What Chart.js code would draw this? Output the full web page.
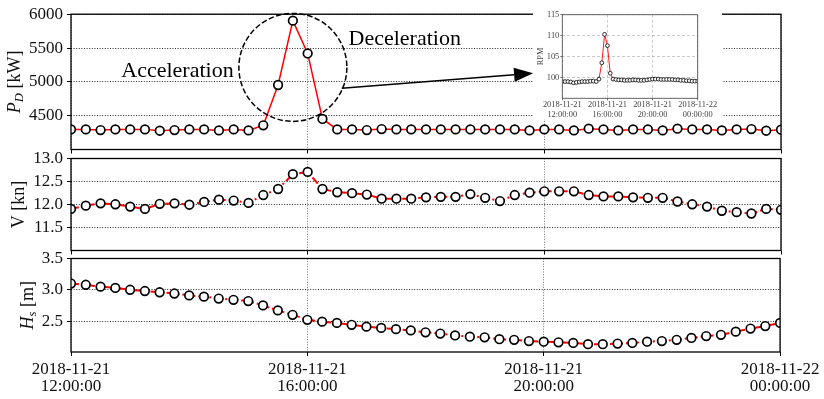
<!DOCTYPE html>
<html>
<head>
<meta charset="utf-8">
<script src="https://cdn.jsdelivr.net/npm/chart.js@4.4.0/dist/chart.umd.min.js"></script>
<style>
  html, body { margin: 0; padding: 0; background: #fff; }
  #wrap { position: relative; width: 824px; height: 399px; overflow: hidden; }
  #wrap canvas { position: absolute; }
  #rpmChart { background: #fff; }
</style>
</head>
<body>
<div id="wrap">
  <canvas id="powerChart" width="824" height="399" style="left:0;top:0"></canvas>
  <canvas id="speedChart" width="824" height="399" style="left:0;top:0"></canvas>
  <canvas id="waveChart" width="824" height="399" style="left:0;top:0"></canvas>
  <canvas id="rpmChart" width="189" height="112" style="left:533px;top:7px"></canvas>
</div>
<script>
// time axis: one sample every 15 minutes from 12:00 to 00:00 (hours)
const START_HOUR = 12;
const STEP_HOURS = 0.25;
const X_TICKS = [12, 16, 20, 24];
const X_TICK_LABELS = [
    ['2018-11-21', '12:00:00'],
    ['2018-11-21', '16:00:00'],
    ['2018-11-21', '20:00:00'],
    ['2018-11-22', '00:00:00']
];

// delivered power P_D [kW]
const POWER_KW = [
    4300, 4300, 4290, 4300, 4300, 4300, 4280, 4290, 4300, 4300, 4285, 4300, 4285,
    4360, 4955, 5905, 5421, 4454,
    4300, 4300, 4290, 4305, 4300, 4300, 4300, 4300, 4300, 4300, 4300, 4300, 4300,
    4285, 4300, 4300, 4285, 4310, 4300, 4285, 4300, 4300, 4285, 4310, 4300, 4300,
    4285, 4300, 4305, 4280, 4295
];
// ship speed V [kn]
const SPEED_KN = [
    11.91, 11.98, 12.03, 12.01, 11.96, 11.91, 12.02, 12.03, 12.00, 12.06, 12.11, 12.09,
    12.04, 12.21, 12.34, 12.66, 12.71, 12.34, 12.27, 12.25, 12.22, 12.13, 12.13, 12.13,
    12.16, 12.17, 12.17, 12.23, 12.15, 12.08, 12.21, 12.26, 12.29, 12.29, 12.29, 12.21,
    12.18, 12.18, 12.16, 12.15, 12.15, 12.07, 12.01, 11.96, 11.87, 11.84, 11.81, 11.91,
    11.89
];
// significant wave height H_s [m]
const WAVE_HS_M = [
    3.10, 3.08, 3.05, 3.03, 3.00, 2.98, 2.96, 2.94, 2.91, 2.89, 2.86, 2.84,
    2.82, 2.75, 2.67, 2.60, 2.52, 2.49, 2.47, 2.44, 2.41, 2.39, 2.37, 2.35,
    2.32, 2.30, 2.27, 2.25, 2.24, 2.21, 2.20, 2.18, 2.17, 2.16, 2.15, 2.13,
    2.13, 2.14, 2.15, 2.17, 2.18, 2.20, 2.23, 2.26, 2.28, 2.33, 2.38, 2.42,
    2.47
];
// shaft speed (inset)
const RPM = [
    99.0, 99.0, 99.0, 98.9, 98.7, 98.8, 98.9, 99.0, 99.0, 99.0, 99.1, 99.1, 99.0,
    99.6, 103.5, 110.3, 107.6, 101.0, 99.6,
    99.5, 99.4, 99.4, 99.3, 99.3, 99.3, 99.4, 99.4, 99.3, 99.3, 99.3, 99.4, 99.5,
    99.6, 99.6, 99.6, 99.5, 99.5, 99.5, 99.5, 99.5, 99.4, 99.4, 99.3, 99.3, 99.2,
    99.2, 99.1, 99.1, 99.1
];

const POWER_TICKS = [4500, 5000, 5500, 6000];
const SPEED_TICKS = [11.5, 12.0, 12.5, 13.0];
const WAVE_TICKS = [2.5, 3.0, 3.5];
const RPM_TICKS = [100, 105, 110, 115];

const SERIF = "'Liberation Serif', 'DejaVu Serif', serif";
const RED = '#ff0000';

const toPoints = arr => arr.map((v, i) => ({ x: START_HOUR + i * STEP_HOURS, y: v }));

// black box round the plot area, drawn over the markers like matplotlib spines
const framePlugin = {
    id: 'frame',
    afterDatasetsDraw(chart, args, opts) {
        const { ctx, chartArea: a } = chart;
        ctx.save();
        ctx.strokeStyle = opts.color;
        ctx.lineWidth = opts.width;
        ctx.strokeRect(a.left, a.top, a.right - a.left, a.bottom - a.top);
        ctx.restore();
    }
};

// rotated y label with italic / subscript parts (P_D, H_s)
const yTitlePlugin = {
    id: 'yTitle',
    afterDraw(chart, args, opts) {
        if (!opts.parts) return;
        const { ctx, chartArea: a } = chart;
        const size = opts.size;
        const fontFor = p => (p.italic ? 'italic ' : '') + (p.sub ? size * 0.7 : size) + 'px ' + SERIF;
        ctx.save();
        ctx.translate(opts.x, (a.top + a.bottom) / 2);
        ctx.rotate(-Math.PI / 2);
        ctx.fillStyle = opts.color;
        ctx.textBaseline = 'alphabetic';
        let total = 0;
        for (const p of opts.parts) {
            ctx.font = fontFor(p);
            total += ctx.measureText(p.text).width;
        }
        let x = -total / 2;
        for (const p of opts.parts) {
            ctx.font = fontFor(p);
            ctx.fillText(p.text, x, p.sub ? size * 0.22 : 0);
            x += ctx.measureText(p.text).width;
        }
        ctx.restore();
    }
};

// dashed circle, the two labels and the arrow pointing at the RPM inset
const zoomNotePlugin = {
    id: 'zoomNote',
    afterDatasetsDraw(chart) {
        const { ctx, scales: { x, y } } = chart;
        const px = (h, v) => [x.getPixelForValue(h), y.getPixelForValue(v)];
        ctx.save();

        const [cx, cy] = px(15.75, 5215);
        ctx.strokeStyle = '#000';
        ctx.lineWidth = 1.5;
        ctx.setLineDash([5.5, 2.4]);
        ctx.beginPath();
        ctx.arc(cx, cy, 54, 0, Math.PI * 2);
        ctx.stroke();
        ctx.setLineDash([]);

        ctx.fillStyle = '#000';
        ctx.font = '22px ' + SERIF;
        ctx.textAlign = 'center';
        ctx.textBaseline = 'middle';
        ctx.fillText('Acceleration', ...px(13.8, 5160));
        ctx.fillText('Deceleration', ...px(17.64, 5636));

        const [x0, y0] = px(16.575, 4906);
        const [x1, y1] = px(19.81, 5128);
        const ang = Math.atan2(y1 - y0, x1 - x0);
        const headLen = 19, headHalf = 7;
        const bx = x1 - headLen * Math.cos(ang), by = y1 - headLen * Math.sin(ang);
        ctx.lineWidth = 1.5;
        ctx.beginPath();
        ctx.moveTo(x0, y0);
        ctx.lineTo(bx, by);
        ctx.stroke();
        ctx.beginPath();
        ctx.moveTo(x1, y1);
        ctx.lineTo(bx - headHalf * Math.sin(ang), by + headHalf * Math.cos(ang));
        ctx.lineTo(bx + headHalf * Math.sin(ang), by - headHalf * Math.cos(ang));
        ctx.closePath();
        ctx.fill();
        ctx.restore();
    }
};

function setTicks(values) {
    return s => { s.ticks = values.map(v => ({ value: v })); };
}

function makePanel(id, data, cfg) {
    return new Chart(document.getElementById(id), {
        type: 'line',
        data: {
            datasets: [{
                data: toPoints(data),
                borderColor: RED,
                borderWidth: cfg.lineWidth,
                borderDash: cfg.dash,
                tension: 0,
                clip: 0,
                pointRadius: 4.3,
                pointBorderWidth: 1.7,
                pointBorderColor: '#000',
                pointBackgroundColor: '#fff'
            }]
        },
        options: {
            responsive: false,
            animation: false,
            events: [],
            layout: { padding: { top: cfg.top, bottom: cfg.bottom, left: 0, right: 43 } },
            plugins: {
                legend: { display: false },
                tooltip: { enabled: false },
                frame: { color: '#000', width: 1.3 },
                yTitle: { parts: cfg.title, x: cfg.titleX, size: 18, color: '#111' }
            },
            scales: {
                x: {
                    type: 'linear',
                    min: 12,
                    max: 24,
                    afterBuildTicks: setTicks(X_TICKS),
                    afterFit: s => { s.height = cfg.xHeight; },
                    border: { display: false, dash: [1, 1.6] },
                    grid: {
                        color: '#666', lineWidth: 0.9,
                        tickLength: 4, tickColor: '#000', tickWidth: 1, tickBorderDash: []
                    },
                    ticks: {
                        display: cfg.showX,
                        autoSkip: false,
                        maxRotation: 0,
                        padding: 4.6,
                        color: '#111',
                        font: { family: SERIF, size: 17, lineHeight: 1.03 },
                        callback: (v, i) => X_TICK_LABELS[i]
                    }
                },
                y: {
                    min: cfg.min,
                    max: cfg.max,
                    afterBuildTicks: setTicks(cfg.ticks),
                    afterFit: s => { s.width = 71; },
                    border: { display: false, dash: [1, 1.6] },
                    grid: {
                        color: '#111', lineWidth: 0.9,
                        tickLength: 4, tickColor: '#000', tickWidth: 1, tickBorderDash: []
                    },
                    ticks: {
                        padding: 4,
                        color: '#111',
                        font: { family: SERIF, size: 17 },
                        callback: cfg.fmt
                    }
                }
            }
        },
        plugins: cfg.extra ? [framePlugin, yTitlePlugin, cfg.extra] : [framePlugin, yTitlePlugin]
    });
}

makePanel('powerChart', POWER_KW, {
    top: 5.5, bottom: 399 - 149.5, xHeight: 0, showX: false,
    min: 4003, max: 6000, ticks: POWER_TICKS, fmt: v => String(v),
    lineWidth: 1.5, dash: [],
    title: [{ text: 'P', italic: true }, { text: 'D', italic: true, sub: true }, { text: ' [kW]' }],
    titleX: 19.5,
    extra: zoomNotePlugin
});

makePanel('speedChart', SPEED_KN, {
    top: 158.5, bottom: 399 - 250.5, xHeight: 0, showX: false,
    min: 11.01, max: 13.0, ticks: SPEED_TICKS, fmt: v => v.toFixed(1),
    lineWidth: 2, dash: [8, 3, 2, 3],
    title: [{ text: 'V [kn]' }],
    titleX: 23.5
});

makePanel('waveChart', WAVE_HS_M, {
    top: 258.5, bottom: 0, xHeight: 47, showX: true,
    min: 2.005, max: 3.5, ticks: WAVE_TICKS, fmt: v => v.toFixed(1),
    lineWidth: 2, dash: [8, 3, 2, 3],
    title: [{ text: 'H', italic: true }, { text: 's', italic: true, sub: true }, { text: ' [m]' }],
    titleX: 32.5
});

// inset: shaft RPM over the same 12 hours
new Chart(document.getElementById('rpmChart'), {
    type: 'line',
    data: {
        datasets: [{
            data: toPoints(RPM),
            borderColor: RED,
            borderWidth: 0.9,
            tension: 0,
            clip: 0,
            pointRadius: 1.9,
            pointBorderWidth: 0.8,
            pointBorderColor: '#000',
            pointBackgroundColor: '#fff'
        }]
    },
    options: {
        responsive: false,
        animation: false,
        events: [],
        layout: { padding: { top: 7.7, bottom: 0, left: 0, right: 24.3 } },
        plugins: {
            legend: { display: false },
            tooltip: { enabled: false },
            frame: { color: '#555', width: 0.9 },
            yTitle: { parts: [{ text: 'RPM' }], x: 10, size: 8.4, color: '#444' }
        },
        scales: {
            x: {
                type: 'linear',
                min: 12,
                max: 24,
                afterBuildTicks: setTicks(X_TICKS),
                afterFit: s => { s.height = 20.7; },
                border: { display: false, dash: [3, 2] },
                grid: {
                    color: '#b5b5b5', lineWidth: 0.7,
                    tickLength: 2, tickColor: '#555', tickWidth: 0.8, tickBorderDash: []
                },
                ticks: {
                    autoSkip: false,
                    maxRotation: 0,
                    padding: 0,
                    color: '#444',
                    font: { family: SERIF, size: 8.4, lineHeight: 1.15 },
                    callback: (v, i) => X_TICK_LABELS[i]
                }
            },
            y: {
                min: 95,
                max: 115,
                afterBuildTicks: setTicks(RPM_TICKS),
                afterFit: s => { s.width = 29.3; },
                border: { display: false, dash: [3, 2] },
                grid: {
                    color: '#b5b5b5', lineWidth: 0.7,
                    tickLength: 2, tickColor: '#555', tickWidth: 0.8, tickBorderDash: []
                },
                ticks: {
                    padding: 1,
                    color: '#444',
                    font: { family: SERIF, size: 8.4 },
                    callback: v => String(v)
                }
            }
        }
    },
    plugins: [framePlugin, yTitlePlugin]
});
</script>
</body>
</html>
